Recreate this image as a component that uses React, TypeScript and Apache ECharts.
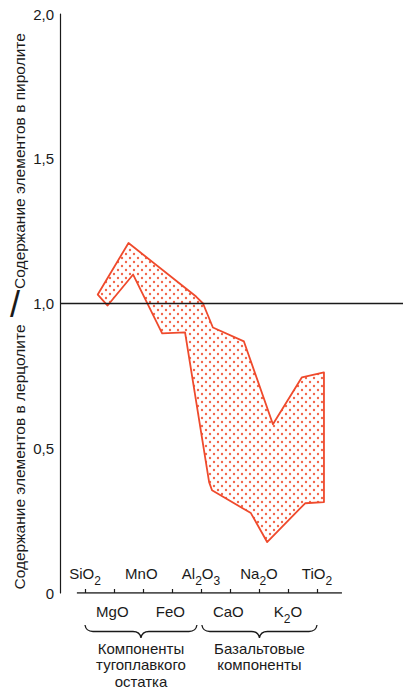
import React, { useEffect, useRef } from "react";
import * as echarts from "echarts";

// ---- data ----
const categories = ["SiO2", "MgO", "MnO", "FeO", "Al2O3", "CaO", "Na2O", "K2O", "TiO2"];
const categoryLabels = [
  "{a|SiO}{s|2}",
  "{a|MgO}{s| }",
  "{a|MnO}{s| }",
  "{a|FeO}{s| }",
  "{a|Al}{s|2}{a|O}{s|3}",
  "{a|CaO}{s| }",
  "{a|Na}{s|2}{a|O}",
  "{a|K}{s|2}{a|O}",
  "{a|TiO}{s|2}",
];
const topLabelIdx = [0, 2, 4, 6, 8];
const bottomLabelIdx = [1, 3, 5, 7];
const tickIdx = [0, 1, 2, 3, 4, 5, 6, 7, 8];
// upper boundary of the field (x = category position, y = ratio)
const upperBoundary: number[][] = [
  [0.44, 1.031], [1.5, 1.209], [3.83, 1.024], [4.07, 1.0], [4.41, 0.917],
  [5.48, 0.869], [6.48, 0.583], [7.48, 0.745], [8.24, 0.762],
];
// lower boundary of the field (from right to left)
const lowerBoundary: number[][] = [
  [8.24, 0.314], [7.59, 0.31], [6.28, 0.176], [5.72, 0.276], [4.38, 0.355],
  [4.28, 0.383], [3.45, 0.9], [2.66, 0.897], [1.66, 1.1], [0.78, 0.993],
];
const yTicks = [0, 0.5, 1, 1.5, 2];
const referenceLevel = 1.0;
const xAxisLineExtent = [-0.28, 8.86];
const axisEndDot = [[8.93, -0.006]];
const groupSpans = [[0, 3.86], [4.03, 8]];
const groupLabels = [
  ["Компоненты", "тугоплавкого", "остатка"],
  ["Базальтовые", "компоненты"],
];
const yTitleParts = ["Содержание элементов в лерцолите", "Содержание элементов в пиролите"];

const FONT = "'Liberation Sans', Arial, Helvetica, sans-serif";
const RED = "#ef4a2c";
const INK = "#1a1a1a";

function bracePath(w: number, h: number): string {
  const m = h / 2;
  const c = w / 2;
  return `M0 0 Q1 ${m} 8 ${m} L${c - 8} ${m} Q${c - 1} ${m} ${c} ${h} Q${c + 1} ${m} ${c + 8} ${m} L${w - 8} ${m} Q${w - 1} ${m} ${w} 0`;
}

export default function App() {
  const ref = useRef<HTMLDivElement>(null);
  useEffect(() => {
    if (!ref.current) return;
    const chart = echarts.init(ref.current, undefined, { renderer: "svg" });

    const cv = document.createElement("canvas");
    cv.width = 8;
    cv.height = 8;
    const ctx = cv.getContext("2d")!;
    ctx.fillStyle = "#ffffff";
    ctx.fillRect(0, 0, 8, 8);
    ctx.fillStyle = "#f2664a";
    [[2, 2], [6, 6]].forEach(([x, y]) => {
      ctx.beginPath();
      ctx.arc(x, y, 1.2, 0, Math.PI * 2);
      ctx.fill();
    });
    const pattern: any = { image: cv, repeat: "repeat", imageWidth: 8, imageHeight: 8 };

    const polygon = upperBoundary.concat(lowerBoundary);
    const xMin = -25 / 29;
    const xMax = xMin + 343 / 29;

    const labelRich = {
      a: { fontSize: 15, fontFamily: FONT, color: INK, lineHeight: 16, verticalAlign: "top" },
      s: { fontSize: 12, fontFamily: FONT, color: INK, lineHeight: 21, verticalAlign: "bottom" },
    };

    chart.setOption({
      animation: false,
      grid: { left: 60, right: 2, top: 14, bottom: 95, containLabel: false, outerBoundsMode: "none" },
      xAxis: [
        {
          type: "value",
          position: "bottom",
          min: xMin,
          max: xMax,
          axisLine: { show: false, onZero: false },
          splitLine: { show: false },
          axisTick: { show: true, customValues: tickIdx, inside: true, length: 4, lineStyle: { color: INK, width: 1.2 } },
          axisLabel: {
            show: true,
            inside: true,
            margin: 6,
            customValues: topLabelIdx,
            formatter: (v: number) => categoryLabels[Math.round(v)],
            rich: labelRich,
          },
        },
        {
          type: "value",
          position: "bottom",
          min: xMin,
          max: xMax,
          axisLine: { show: false, onZero: false },
          splitLine: { show: false },
          axisTick: { show: false },
          axisLabel: {
            show: true,
            margin: 11,
            customValues: bottomLabelIdx,
            formatter: (v: number) => categoryLabels[Math.round(v)],
            rich: labelRich,
          },
        },
      ],
      yAxis: {
        type: "value",
        min: yTicks[0],
        max: yTicks[yTicks.length - 1],
        interval: 0.5,
        axisLine: { show: true, onZero: false, lineStyle: { color: INK, width: 1.2 } },
        axisTick: { show: false },
        splitLine: { show: false },
        axisLabel: {
          margin: 6,
          fontSize: 15,
          fontFamily: FONT,
          color: INK,
          formatter: (v: number) => (v === 0 ? "0" : v.toFixed(1).replace(".", ",")),
        },
      },
      series: [
        {
          type: "custom",
          data: [[0, 0]],
          silent: true,
          renderItem: (_p: any, api: any) => ({
            type: "polygon",
            shape: { points: polygon.map((pt) => api.coord(pt)) },
            style: { fill: pattern, stroke: RED, lineWidth: 1.8, lineJoin: "round" },
          }),
          z: 2,
        },
        {
          type: "line",
          data: xAxisLineExtent.map((x) => [x, 0]),
          symbol: "none",
          silent: true,
          lineStyle: { color: INK, width: 1.3 },
          markLine: {
            silent: true,
            symbol: ["none", "none"],
            label: { show: false },
            lineStyle: { color: INK, width: 1.3, type: "solid" },
            data: [{ yAxis: referenceLevel }],
          },
          z: 3,
        },
        {
          type: "scatter",
          data: axisEndDot,
          symbol: "circle",
          symbolSize: 3,
          silent: true,
          itemStyle: { color: INK },
        },
      ],
    });

    // decorations below the axis: braces and group captions
    const graphics: any[] = [];
    groupSpans.forEach((span, i) => {
      const x0 = chart.convertToPixel({ xAxisIndex: 0 }, span[0]) as number;
      const x1 = chart.convertToPixel({ xAxisIndex: 0 }, span[1]) as number;
      const w = x1 - x0;
      const name = "brace" + i;
      echarts.graphic.registerShape(name, echarts.graphic.extendPath(bracePath(w, 13), {}) as any);
      graphics.push({
        type: name,
        x: x0,
        y: 625,
        style: { stroke: INK, fill: "none", lineWidth: 1.3 },
      });
      groupLabels[i].forEach((t, j) => {
        graphics.push({
          type: "text",
          x: x0 + w / 2,
          y: 648 + j * 16.5,
          style: {
            text: t,
            fontSize: 15,
            fontFamily: FONT,
            fill: INK,
            align: "center",
            verticalAlign: "middle",
          },
        });
      });
    });
    graphics.push(
      {
        type: "text",
        x: 19,
        y: 457,
        rotation: Math.PI / 2,
        style: { text: yTitleParts[0], fontSize: 15.5, fontFamily: FONT, fill: INK, align: "center", verticalAlign: "middle" },
      },
      {
        type: "text",
        x: 19,
        y: 161,
        rotation: Math.PI / 2,
        style: { text: yTitleParts[1], fontSize: 15.5, fontFamily: FONT, fill: INK, align: "center", verticalAlign: "middle" },
      },
      {
        type: "text",
        x: 15,
        y: 304,
        style: { text: "/", fontSize: 36, fontFamily: FONT, fill: INK, align: "center", verticalAlign: "middle" },
      }
    );
    chart.setOption({ graphic: graphics });

    return () => chart.dispose();
  }, []);
  return <div ref={ref} style={{ width: 405, height: 688, position: "absolute", left: 0, top: 0, background: "#fff" }} />;
}
